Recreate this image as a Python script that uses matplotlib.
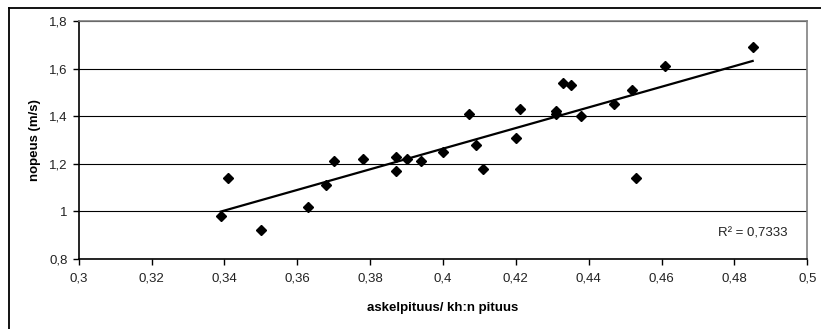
import matplotlib
matplotlib.use("Agg")
import matplotlib.pyplot as plt
import numpy as np
from matplotlib.lines import Line2D
from matplotlib.ticker import FuncFormatter

plt.rcParams['font.family'] = ['Liberation Sans', 'DejaVu Sans']

# step length relative to leg length vs. walking speed
step_ratio = [0.339, 0.341, 0.350, 0.363, 0.368, 0.370, 0.378, 0.387, 0.387,
              0.390, 0.394, 0.400, 0.407, 0.409, 0.411, 0.420, 0.421, 0.431,
              0.431, 0.433, 0.435, 0.438, 0.447, 0.452, 0.453, 0.461, 0.485]
speed = [0.98, 1.14, 0.92, 1.02, 1.11, 1.21, 1.22, 1.23, 1.17,
         1.22, 1.21, 1.25, 1.41, 1.28, 1.18, 1.31, 1.43, 1.42,
         1.41, 1.54, 1.53, 1.40, 1.45, 1.51, 1.14, 1.61, 1.69]
r2_text = "R² = 0,7333"

x_ticks = [0.3, 0.32, 0.34, 0.36, 0.38, 0.4, 0.42, 0.44, 0.46, 0.48, 0.5]
y_ticks = [0.8, 1.0, 1.2, 1.4, 1.6, 1.8]

x = np.array(step_ratio)
y = np.array(speed)
slope, icpt = np.polyfit(x, y, 1)
xs = np.array([x.min(), x.max()])

fig = plt.figure(figsize=(8.21, 3.29), dpi=100)
ax = fig.add_axes([78.7 / 821, 1 - 259 / 329, (807.3 - 78.7) / 821, (259 - 21) / 329])

ax.plot(x, y, 'D', color='black', markersize=5, zorder=3)
ax.plot(xs, slope * xs + icpt, color='black', lw=1.6, zorder=2)

ax.set_xlim(0.3, 0.5)
ax.set_ylim(0.8, 1.8)
ax.set_xticks(x_ticks)
ax.set_yticks(y_ticks)


def comma(v, pos):
    s = f"{v:.2f}".rstrip('0').rstrip('.')
    return s.replace('.', ',')


ax.xaxis.set_major_formatter(FuncFormatter(comma))
ax.yaxis.set_major_formatter(FuncFormatter(comma))
ax.tick_params(axis='both', direction='out', length=4, width=1, labelsize=9.5,
               color='black', labelcolor='#222222')
ax.tick_params(axis='x', pad=6)
ax.tick_params(axis='y', pad=4)
ax.yaxis.grid(True, color='black', lw=0.8)
ax.set_axisbelow(True)

for side in ('top', 'right'):
    ax.spines[side].set_color('#808080')
    ax.spines[side].set_linewidth(1.2)
for side in ('left', 'bottom'):
    ax.spines[side].set_color('black')
    ax.spines[side].set_linewidth(1.2)

ax.set_xlabel('askelpituus/ kh:n pituus', fontsize=9.5, fontweight='bold', labelpad=12)
ax.set_ylabel('nopeus (m/s)', fontsize=9.5, fontweight='bold', labelpad=6)

ax.text(0.4947, 0.909, r2_text, ha='right', va='center', fontsize=9.5, color='#222222')

# outer chart frame
fig.add_artist(Line2D([9 / 821, 9 / 821], [0, 1 - 8 / 329], transform=fig.transFigure,
                      color='black', lw=1.3))
fig.add_artist(Line2D([9 / 821, 1], [1 - 8 / 329, 1 - 8 / 329], transform=fig.transFigure,
                      color='black', lw=1.3))

fig.savefig('out.png', dpi=100)
